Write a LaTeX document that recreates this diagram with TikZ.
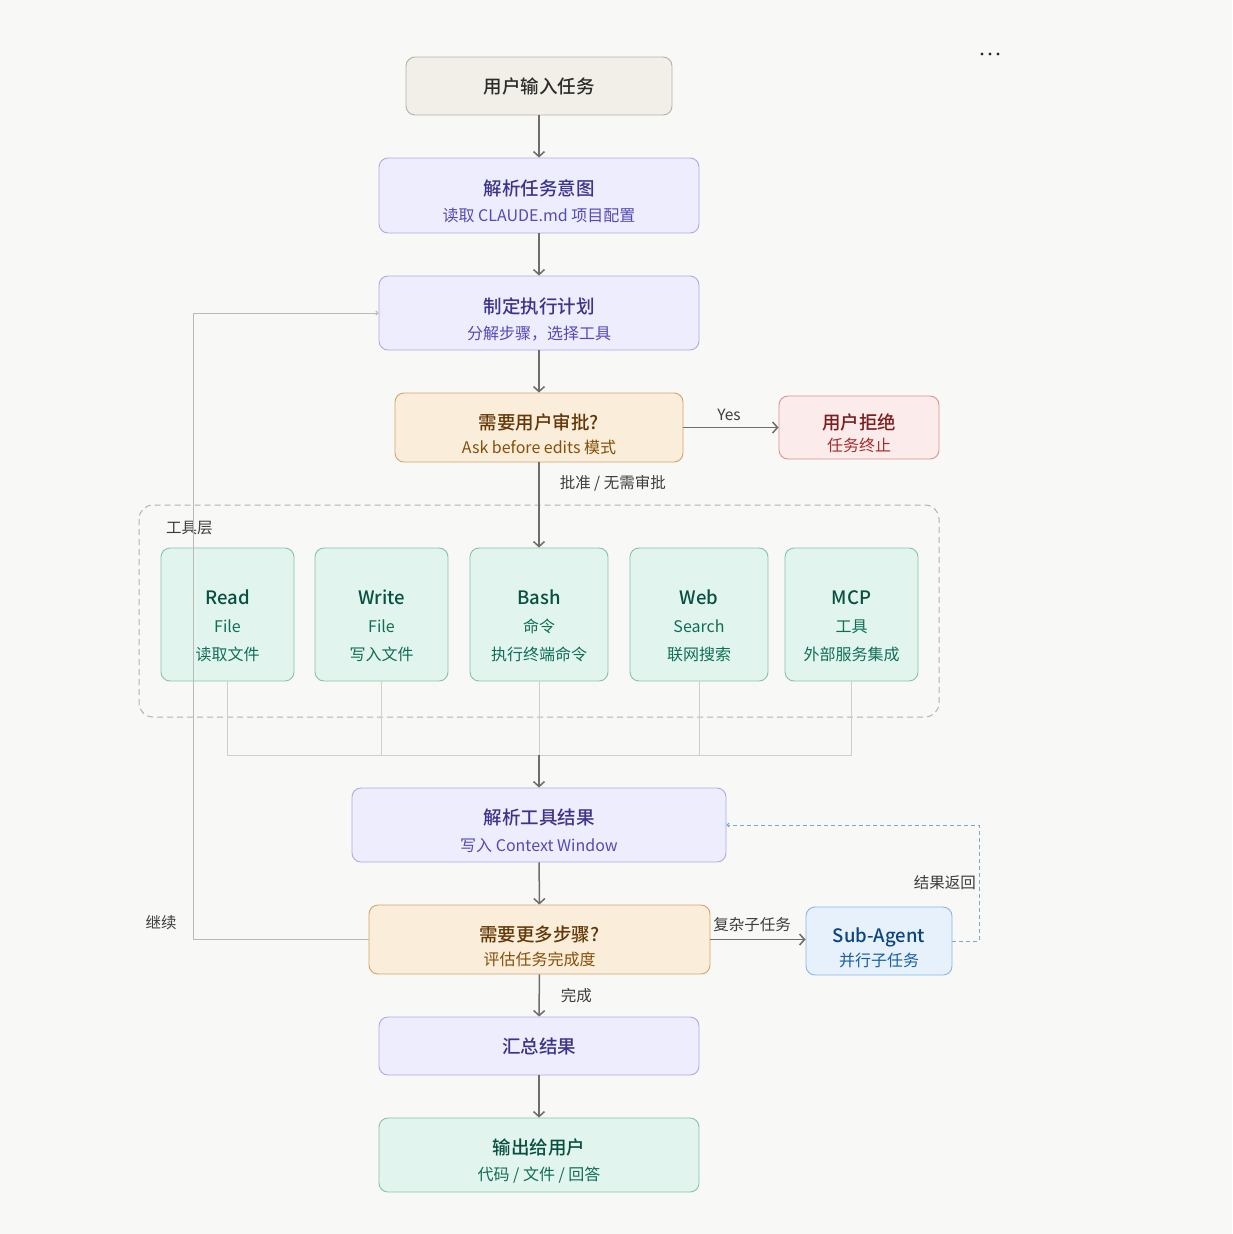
\documentclass[tikz,border=0pt]{standalone}
\usepackage{fontspec}
\setmainfont{Noto Sans CJK SC}[BoldFont={Noto Sans CJK SC Medium}]
\usetikzlibrary{arrows.meta}
\definecolor{bg}{HTML}{F8F8F6}
\definecolor{grayfill}{HTML}{F1EFE8}
\definecolor{grayline}{HTML}{B4B2A9}
\definecolor{graytext}{HTML}{2C2C2A}
\definecolor{purplefill}{HTML}{EEEDFE}
\definecolor{purpleline}{HTML}{AFA9EC}
\definecolor{purpletitle}{HTML}{3C3489}
\definecolor{purplesub}{HTML}{534AB7}
\definecolor{amberfill}{HTML}{FAEEDA}
\definecolor{amberline}{HTML}{D2A56E}
\definecolor{ambertitle}{HTML}{633806}
\definecolor{ambersub}{HTML}{854F0B}
\definecolor{redfill}{HTML}{FCEBEB}
\definecolor{redline}{HTML}{E09090}
\definecolor{redtitle}{HTML}{791F1F}
\definecolor{redsub}{HTML}{A32D2D}
\definecolor{tealfill}{HTML}{E1F5EE}
\definecolor{tealline}{HTML}{86C4AC}
\definecolor{tealtitle}{HTML}{085041}
\definecolor{tealsub}{HTML}{0F6E56}
\definecolor{bluefill}{HTML}{E6F1FB}
\definecolor{blueline}{HTML}{85B7EB}
\definecolor{bluetitle}{HTML}{0C447C}
\definecolor{bluesub}{HTML}{185FA5}
\definecolor{arrowc}{HTML}{6E6D68}
\definecolor{feedc}{HTML}{CFCFCC}
\definecolor{lblc}{HTML}{3D3D3A}
\newcommand{\boxtitle}{\fontsize{18.5}{22}\selectfont\bfseries}
\newcommand{\boxsub}{\fontsize{16}{20}\selectfont}
\newcommand{\pad}[1]{\rule{0pt}{#1pt}}
\tikzset{
  box/.style={rounded corners=9pt, line width=0.9pt, align=center, inner sep=0pt},
  graybox/.style={box, draw=grayline, fill=grayfill, text=graytext},
  purplebox/.style={box, draw=purpleline, fill=purplefill, text=purpletitle},
  amberbox/.style={box, draw=amberline, fill=amberfill, text=ambertitle},
  redbox/.style={box, draw=redline, fill=redfill, text=redtitle},
  tealbox/.style={box, draw=tealline, fill=tealfill, text=tealtitle},
  bluebox/.style={box, draw=blueline, fill=bluefill, text=bluetitle},
  gap/.style={font=\fontsize{16}{#1}\selectfont},
  arr/.style={draw=arrowc, line width=1.5pt, -{Straight Barb[length=5pt,width=11pt]}},
  feed/.style={draw=feedc, line width=1pt},
  lbl/.style={text=lblc, font=\fontsize{15.5}{18}\selectfont, inner sep=0pt},
}
\begin{document}
\begin{tikzpicture}[x=1pt,y=-1pt]
  \fill[bg] (0,0) rectangle (1232,1234);
  \useasboundingbox (0,0) rectangle (1232,1234);
  \fill[graytext] (982,54) circle (1.7) (990,54) circle (1.7) (998,54) circle (1.7);

  \node[graybox, minimum width=266pt, minimum height=58pt] (input) at (539,86) {\boxtitle 用户输入任务};
  \node[purplebox, gap=26pt, minimum width=320pt, minimum height=75pt] (parse) at (539,195.5)
    {{\boxtitle\pad{28}解析任务意图}\\{\boxsub\color{purplesub} 读取 CLAUDE.md 项目配置}};
  \node[purplebox, gap=26pt, minimum width=320pt, minimum height=74pt] (plan) at (539,313)
    {{\boxtitle\pad{28}制定执行计划}\\{\boxsub\color{purplesub} 分解步骤，选择工具}};
  \node[amberbox, gap=24pt, minimum width=288pt, minimum height=69pt] (approve) at (539,427.5)
    {{\boxtitle\pad{29}需要用户审批?}\\{\boxsub\color{ambersub} Ask before edits 模式}};
  \node[redbox, gap=22pt, minimum width=160pt, minimum height=63pt] (reject) at (859,427.5)
    {{\boxtitle\pad{27}用户拒绝}\\{\boxsub\color{redsub} 任务终止}};

  \draw[grayline, line width=1pt, dash pattern=on 6pt off 4pt, rounded corners=14pt] (139,505) rectangle (939,717);
  \node[lbl, anchor=west] (layer) at (166,528) {工具层};
  \node[tealbox, gap=28pt, minimum width=133pt, minimum height=133pt] (read) at (227.5,614.5)
    {{\boxtitle\pad{38}Read}\\{\boxsub\color{tealsub} File}\\{\boxsub\color{tealsub} 读取文件}};
  \node[tealbox, gap=28pt, minimum width=133pt, minimum height=133pt] (write) at (381.5,614.5)
    {{\boxtitle\pad{38}Write}\\{\boxsub\color{tealsub} File}\\{\boxsub\color{tealsub} 写入文件}};
  \node[tealbox, gap=28pt, minimum width=138pt, minimum height=133pt] (bash) at (539,614.5)
    {{\boxtitle\pad{38}Bash}\\{\boxsub\color{tealsub} 命令}\\{\boxsub\color{tealsub} 执行终端命令}};
  \node[tealbox, gap=28pt, minimum width=138pt, minimum height=133pt] (web) at (699,614.5)
    {{\boxtitle\pad{38}Web}\\{\boxsub\color{tealsub} Search}\\{\boxsub\color{tealsub} 联网搜索}};
  \node[tealbox, gap=28pt, minimum width=133pt, minimum height=133pt] (mcp) at (851.5,614.5)
    {{\boxtitle\pad{38}MCP}\\{\boxsub\color{tealsub} 工具}\\{\boxsub\color{tealsub} 外部服务集成}};

  \node[purplebox, gap=27pt, minimum width=374pt, minimum height=74pt] (result) at (539,825)
    {{\boxtitle\pad{27}解析工具结果}\\{\boxsub\color{purplesub} 写入 Context Window}};
  \node[amberbox, gap=24pt, minimum width=341pt, minimum height=69pt] (more) at (539.5,939.5)
    {{\boxtitle\pad{29}需要更多步骤?}\\{\boxsub\color{ambersub} 评估任务完成度}};
  \node[bluebox, gap=24pt, minimum width=146pt, minimum height=68pt] (sub) at (879,941)
    {{\boxtitle\pad{28}Sub-Agent}\\{\boxsub\color{bluesub} 并行子任务}};
  \node[purplebox, minimum width=320pt, minimum height=58pt] (summary) at (539,1046) {\boxtitle 汇总结果};
  \node[tealbox, gap=26pt, minimum width=320pt, minimum height=74pt] (output) at (539,1155)
    {{\boxtitle\pad{27}输出给用户}\\{\boxsub\color{tealsub} 代码 / 文件 / 回答}};

  \coordinate (join) at (539,755);
  \coordinate (back) at (193,939.5);
  \coordinate (retc) at (979,825);

  \draw[arr] (input) -- (parse);
  \draw[arr] (parse) -- (plan);
  \draw[arr] (plan) -- (approve);
  \draw[arr] (approve) -- node[lbl, above, yshift=6pt, xshift=-2pt] {Yes} (reject);
  \draw[arr] (approve) -- node[lbl, pos=0.25, anchor=west, xshift=20pt] {批准 / 无需审批} (bash);
  \foreach \t in {read,write,bash,web,mcp}
    \draw[feed] (\t.south) |- (join);
  \draw[arr] (join) -- (result);
  \draw[arr] (result) -- (more);
  \draw[arr] (more.east) -- node[lbl, above, yshift=7pt, xshift=-6pt] {复杂子任务} (more.east -| sub.west);
  \draw[bluesub!55, line width=1pt, dash pattern=on 4pt off 3pt, -{Straight Barb[length=2pt,width=4pt]}] (sub.east) -| (retc) -- (result.east);
  \node[lbl, anchor=east] (lret) at (976,883) {结果返回};
  \draw[arr] (more) -- node[lbl, anchor=west, xshift=21pt] {完成} (summary);
  \draw[arr] (summary) -- (output);
  \draw[feedc!90!black, line width=1pt, -{Straight Barb[length=2pt,width=4pt]}] (more.west) -- (back) |- (plan.west);
  \node[lbl] (lcont) at (161,923) {继续};
\end{tikzpicture}
\end{document}
